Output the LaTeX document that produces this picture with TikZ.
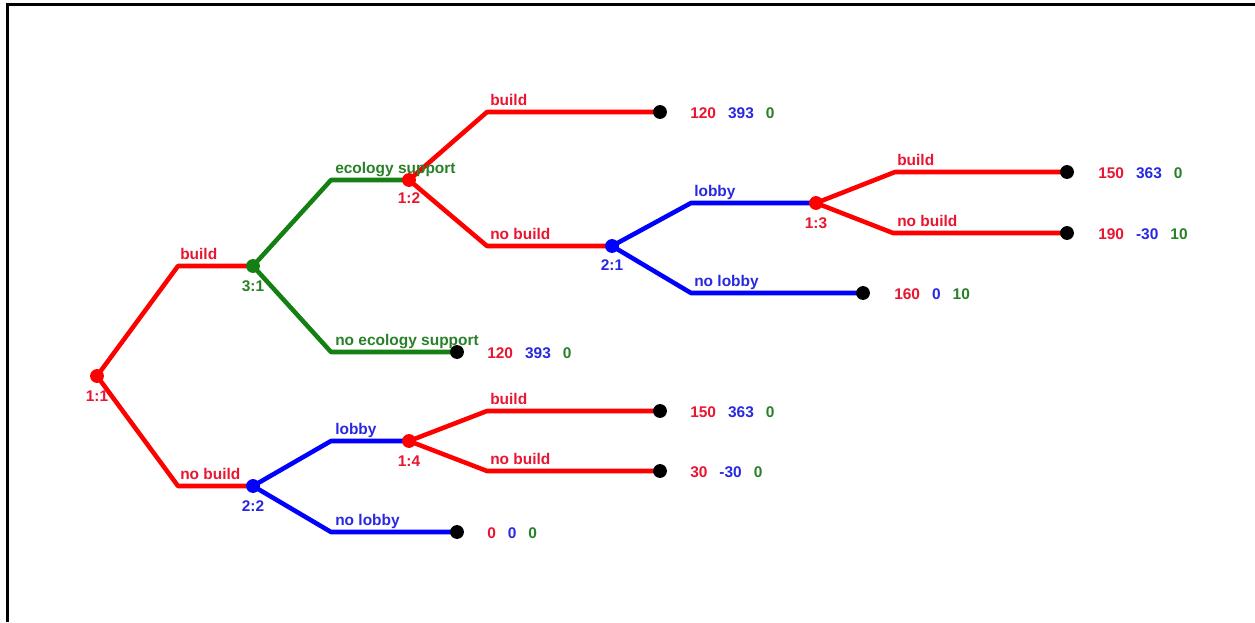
\documentclass[tikz,border=0pt]{standalone}
\usepackage{fontspec}
\setmainfont{Liberation Sans}
\usetikzlibrary{backgrounds}
\definecolor{pred}{RGB}{255,0,0}
\definecolor{pgreen}{RGB}{20,128,20}
\definecolor{pblue}{RGB}{0,0,255}
\definecolor{tred}{RGB}{232,22,48}
\definecolor{tgreen}{RGB}{40,128,40}
\definecolor{tblue}{RGB}{40,40,225}
\tikzset{
  dot/.style={circle, fill=#1, inner sep=0pt, minimum size=10.4pt},
  edge/.style={line width=3.4pt, line join=round, draw=#1},
  txt/.style={font=\fontsize{11.6}{13}\selectfont\bfseries, inner sep=0pt},
  lbl/.style={txt, anchor=base west, text=#1},
  tag/.style={txt, text=#1},
  pay/.style={txt, anchor=west},
}
\newcommand{\payoff}[3]{\textcolor{tred}{#1}\hspace{9pt}\textcolor{tblue}{#2}\hspace{9pt}\textcolor{tgreen}{#3}}
\begin{document}
\begin{tikzpicture}[x=0.75pt,y=-0.75pt]
\useasboundingbox (0,0) rectangle (1255,622);
% frame
\draw[line width=2.2pt] (7.3,622) -- (7.3,4.7) -- (1255,4.7);

% decision nodes
\node[dot=pred]   (n11) at (97,376) {};
\node[dot=pgreen] (n31) at (253,266) {};
\node[dot=pred]   (n12) at (409,180) {};
\node[dot=pblue]  (n21) at (612,246) {};
\node[dot=pred]   (n13) at (816,203) {};
\node[dot=pblue]  (n22) at (253,486) {};
\node[dot=pred]   (n14) at (409,441) {};

% terminal nodes
\node[dot=black] (t1) at (660,112) {};
\node[dot=black] (t2) at (1067,172) {};
\node[dot=black] (t3) at (1067,233) {};
\node[dot=black] (t4) at (863,293) {};
\node[dot=black] (t5) at (457,352) {};
\node[dot=black] (t6) at (660,411) {};
\node[dot=black] (t7) at (660,471) {};
\node[dot=black] (t8) at (457,532) {};

% elbows of the branches
\coordinate (a1) at (178,266);
\coordinate (a2) at (178,486);
\coordinate (b1) at (331,180);
\coordinate (b2) at (331,352);
\coordinate (c1) at (487,112);
\coordinate (c2) at (487,246);
\coordinate (d1) at (691,203);
\coordinate (d2) at (691,293);
\coordinate (e1) at (895,172);
\coordinate (e2) at (893,233);
\coordinate (f1) at (331,441);
\coordinate (f2) at (331,532);
\coordinate (g1) at (487,411);
\coordinate (g2) at (487,471);

\begin{scope}[on background layer]
\draw[edge=pred]   (n11.center) -- (a1) -- (n31.center);
\draw[edge=pred]   (n11.center) -- (a2) -- (n22.center);
\draw[edge=pgreen] (n31.center) -- (b1) -- (n12.center);
\draw[edge=pgreen] (n31.center) -- (b2) -- (t5.center);
\draw[edge=pred]   (n12.center) -- (c1) -- (t1.center);
\draw[edge=pred]   (n12.center) -- (c2) -- (n21.center);
\draw[edge=pblue]  (n21.center) -- (d1) -- (n13.center);
\draw[edge=pblue]  (n21.center) -- (d2) -- (t4.center);
\draw[edge=pred]   (n13.center) -- (e1) -- (t2.center);
\draw[edge=pred]   (n13.center) -- (e2) -- (t3.center);
\draw[edge=pblue]  (n22.center) -- (f1) -- (n14.center);
\draw[edge=pblue]  (n22.center) -- (f2) -- (t8.center);
\draw[edge=pred]   (n14.center) -- (g1) -- (t6.center);
\draw[edge=pred]   (n14.center) -- (g2) -- (t7.center);
\end{scope}

% branch labels
\node[lbl=tred]   (la1) at ([shift={(2,-7)}]a1) {build};
\node[lbl=tred]   (la2) at ([shift={(2,-7)}]a2) {no build};
\node[lbl=tgreen] (lb1) at ([shift={(4,-7)}]b1) {ecology support};
\node[lbl=tgreen] (lb2) at ([shift={(4,-7)}]b2) {no ecology support};
\node[lbl=tred]   (lc1) at ([shift={(3,-7)}]c1) {build};
\node[lbl=tred]   (lc2) at ([shift={(3,-7)}]c2) {no build};
\node[lbl=tblue]  (ld1) at ([shift={(3,-7)}]d1) {lobby};
\node[lbl=tblue]  (ld2) at ([shift={(3,-7)}]d2) {no lobby};
\node[lbl=tred]   (le1) at ([shift={(2,-7)}]e1) {build};
\node[lbl=tred]   (le2) at ([shift={(4,-7)}]e2) {no build};
\node[lbl=tblue]  (lf1) at ([shift={(4,-7)}]f1) {lobby};
\node[lbl=tblue]  (lf2) at ([shift={(4,-7)}]f2) {no lobby};
\node[lbl=tred]   (lg1) at ([shift={(3,-7)}]g1) {build};
\node[lbl=tred]   (lg2) at ([shift={(3,-7)}]g2) {no build};

% player tags under decision nodes
\node[tag=tred]   (tg11) at ([shift={(0,20)}]n11.center) {1:1};
\node[tag=tgreen] (tg31) at ([shift={(0,20)}]n31.center) {3:1};
\node[tag=tred]   (tg12) at ([shift={(0,18)}]n12.center) {1:2};
\node[tag=tblue]  (tg21) at ([shift={(0,19)}]n21.center) {2:1};
\node[tag=tred]   (tg13) at ([shift={(0,20)}]n13.center) {1:3};
\node[tag=tblue]  (tg22) at ([shift={(0,20)}]n22.center) {2:2};
\node[tag=tred]   (tg14) at ([shift={(0,20)}]n14.center) {1:4};

% payoffs
\node[pay] (p1) at ([shift={(30,1)}]t1.center) {\payoff{120}{393}{0}};
\node[pay] (p2) at ([shift={(31,1)}]t2.center) {\payoff{150}{363}{0}};
\node[pay] (p3) at ([shift={(31,1)}]t3.center) {\payoff{190}{-30}{10}};
\node[pay] (p4) at ([shift={(31,1)}]t4.center) {\payoff{160}{0}{10}};
\node[pay] (p5) at ([shift={(30,1)}]t5.center) {\payoff{120}{393}{0}};
\node[pay] (p6) at ([shift={(30,1)}]t6.center) {\payoff{150}{363}{0}};
\node[pay] (p7) at ([shift={(30,1)}]t7.center) {\payoff{30}{-30}{0}};
\node[pay] (p8) at ([shift={(30,1)}]t8.center) {\payoff{0}{0}{0}};
\end{tikzpicture}
\end{document}
